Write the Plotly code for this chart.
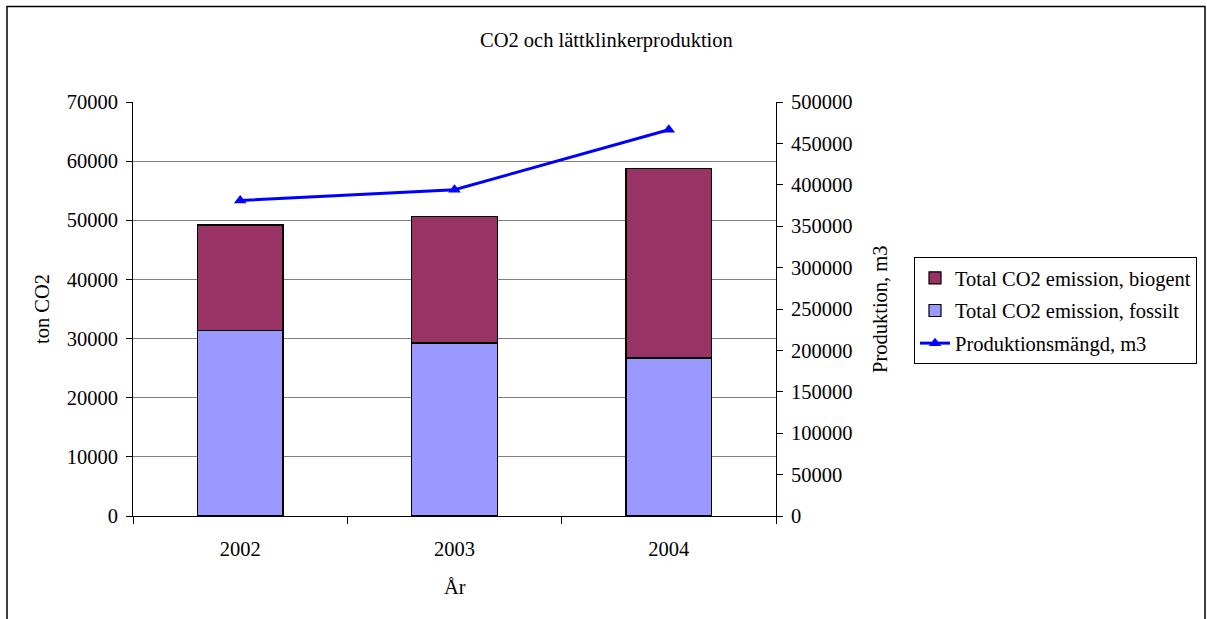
import plotly.graph_objects as go

# CO2 emissions (ton) and production volume (m3) per year
years = ["2002", "2003", "2004"]
co2_fossil = [31300, 29250, 26700]
co2_biogenic_total = [49200, 50700, 58800]
co2_biogenic = [t - f for t, f in zip(co2_biogenic_total, co2_fossil)]
production_m3 = [381000, 394000, 466500]

left_ticks = list(range(0, 70001, 10000))
right_ticks = list(range(0, 500001, 50000))

FONT = "Liberation Serif, Times New Roman, serif"
FS = 20.5
W, H = 1207, 619
L, R, T, B = 133, 776, 102, 516

fig = go.Figure()
fig.add_trace(go.Bar(
    x=years, y=co2_fossil, name="Total CO2 emission, fossilt",
    marker=dict(color="#9999FF", line=dict(color="black", width=1.2)),
    width=0.4, legendrank=2, legendgroup="b",
))
fig.add_trace(go.Bar(
    x=years, y=co2_biogenic, name="Total CO2 emission, biogent",
    marker=dict(color="#993366", line=dict(color="black", width=1.2)),
    width=0.4, legendrank=1, legendgroup="a",
))
fig.add_trace(go.Scatter(
    x=years, y=production_m3, name="Produktionsmängd, m3", yaxis="y2",
    mode="lines+markers",
    line=dict(color="#0000FF", width=3),
    marker=dict(symbol="triangle-up", size=11, color="#0000FF"),
    legendrank=3, legendgroup="c",
))

pw, ph = R - L, B - T


def px_x(v):
    return (v - L) / pw


def px_y(v):
    return (B - v) / ph


def label(text, x, y, angle=0):
    return dict(text=text, x=px_x(x), y=px_y(y), xref="paper", yref="paper",
                xanchor="center", yanchor="middle", textangle=angle,
                showarrow=False, font=dict(size=FS))


fig.update_layout(
    width=W, height=H,
    margin=dict(l=L, r=W - R, t=T, b=H - B, autoexpand=False),
    paper_bgcolor="white", plot_bgcolor="white",
    barmode="stack",
    font=dict(family=FONT, size=FS, color="black"),
    showlegend=True,
    legend=dict(
        x=px_x(914), y=px_y(257), xanchor="left", yanchor="top",
        traceorder="grouped", bordercolor="black", borderwidth=1,
        font=dict(family=FONT, size=FS), bgcolor="white",
        itemwidth=30, tracegroupgap=3,
    ),
    xaxis=dict(
        type="category", showline=True, linecolor="black", linewidth=1,
        ticks="outside", tickson="boundaries", ticklen=7, tickcolor="black",
        showgrid=False, ticklabelstandoff=14, automargin=False,
    ),
    yaxis=dict(
        range=[0, 70000], tickvals=left_ticks, ticktext=[str(v) for v in left_ticks],
        showline=True, linecolor="black",
        ticks="outside", ticklen=6, tickcolor="black",
        showgrid=True, gridcolor="#808080", gridwidth=1, zeroline=False,
        ticklabelstandoff=4, automargin=False,
    ),
    yaxis2=dict(
        range=[0, 500000], tickvals=right_ticks, ticktext=[str(v) for v in right_ticks],
        overlaying="y", side="right",
        showline=True, linecolor="black", ticks="outside", ticklen=6,
        tickcolor="black", showgrid=False, zeroline=False,
        ticklabelstandoff=4, automargin=False,
    ),
    annotations=[
        label("CO2 och lättklinkerproduktion", 606, 40),
        label("ton CO2", 42, 309, -90),
        label("Produktion, m3", 880, 309, -90),
        label("År", 455, 587),
    ],
    shapes=[
        dict(type="rect", xref="paper", yref="paper",
             x0=px_x(7), x1=px_x(1205), y0=px_y(640), y1=px_y(6.5),
             line=dict(color="black", width=1.5), layer="below"),
    ],
)

fig.write_html("out.html")
